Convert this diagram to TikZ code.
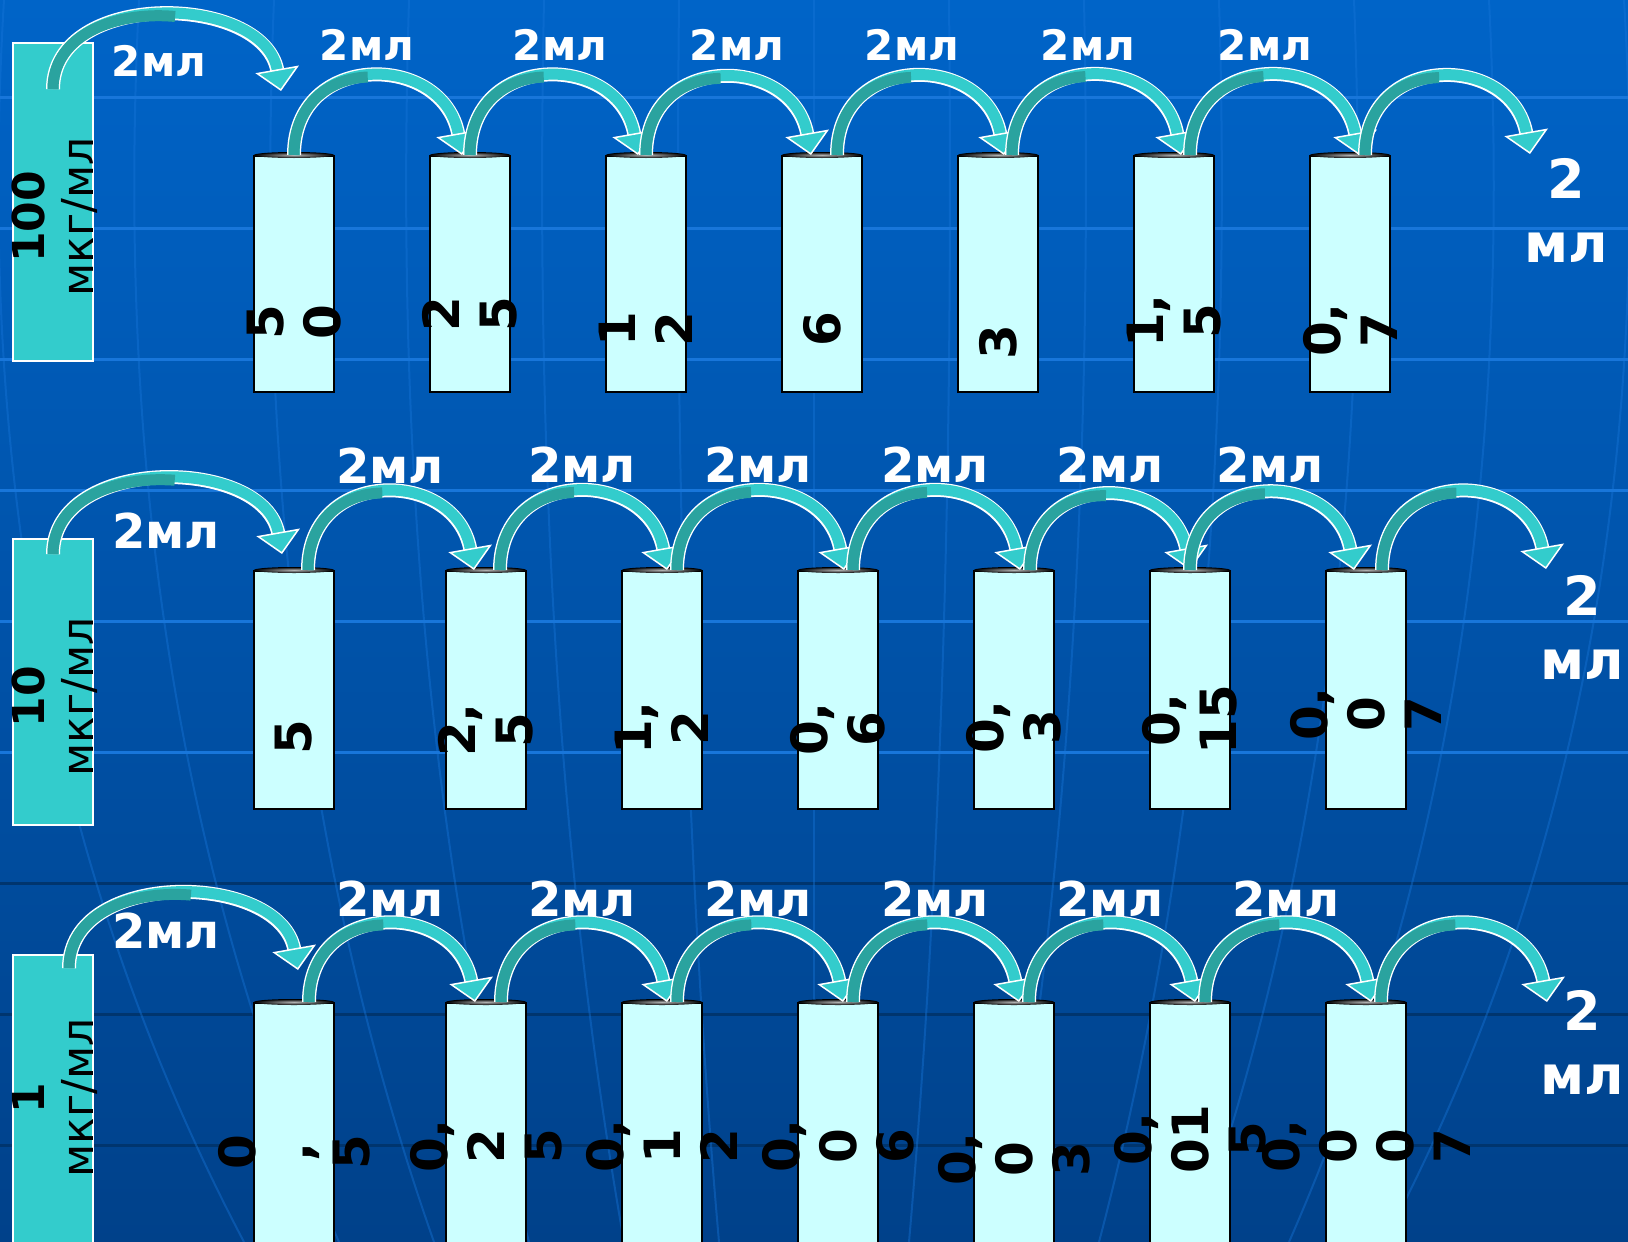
\documentclass[tikz,border=0pt]{standalone}
\usepackage{fontspec}
\setmainfont{DejaVu Sans}
\usepackage{tikz}
\usetikzlibrary{arrows.meta}
\definecolor{bgtop}    {HTML}{0064C8}
\definecolor{bgmid}    {HTML}{0055AE}
\definecolor{bgbot}    {HTML}{00418A}
\definecolor{gridlight}{HTML}{1876DA}
\definecolor{griddark} {HTML}{00356E}
\definecolor{tubefill} {HTML}{CCFFFF}
\definecolor{stockfill}{HTML}{33CCCC}
\definecolor{flowlight}{HTML}{33CCCC}
\definecolor{flowdark} {HTML}{2AA39F}
\tikzset{
  % --- nodes
  stock/.style = {draw=white, line width=0.75pt, fill=stockfill, minimum width=40pt, inner sep=0pt},
  tube/.style  = {draw=black, line width=1pt, fill=tubefill, minimum width=40pt, inner sep=0pt},
  conc/.style  = {rotate=90, align=center, inner sep=0pt, font=\fontsize{22}{24.5}\selectfont},
  num/.style   = {rotate=90, align=center, inner sep=0pt, font=\fontsize{25}{28.5}\selectfont\bfseries},
  vol/.style   = {inner sep=0pt, text=white, font=\fontsize{21}{25}\selectfont\bfseries},
  volbig/.style= {vol, font=\fontsize{24}{28}\selectfont\bfseries},
  rest/.style  = {align=center, inner sep=0pt, text=white, font=\fontsize{27}{32}\selectfont\bfseries},
  lid/.style   = {inner color=gray!60, outer color=black},
  % --- edges
  flow/.style  = {draw=flowlight, line width=5.5pt,
                  -{Triangle[width=22pt, length=11pt, fill=flowlight, color=white, line width=0.75pt]},
                  preaction={draw=white, line width=7pt, shorten >=10pt, arrows=-},
                  postaction={draw=flowdark, line width=5.5pt, arrows=-, dash pattern=on #1 off 400pt}},
  flow/.default = 60pt,
  gridhi/.style = {draw=gridlight, line width=1.5pt},
  gridlo/.style = {draw=griddark, line width=1.5pt},
}

\begin{document}
\begin{tikzpicture}[x=0.5pt,y=0.5pt]
  \useasboundingbox (0,0) rectangle (1628,-1242);
  \shade[top color=bgtop, middle color=bgmid, bottom color=bgbot] (0,0) rectangle (1628,-1242);

  % globe lines behind everything
  \foreach \y in {97,228,359,490,621,752}
    \draw[gridhi] (0,-\y) -- (1628,-\y);
  \foreach \y in {883,1014,1145}
    \draw[gridlo] (0,-\y) -- (1628,-\y);
  \foreach \k in {-6,...,6}
    \draw[gridhi, line width=1pt, opacity=0.4] ({814+\k*135},0) .. controls ({814+\k*140},-500) and ({814+\k*125},-900) .. ({814+\k*95},-1242);

  % row 1: 100 мкг/мл
  \node[stock, minimum height=159pt] (a0) at (53,-202) {};
  \node[conc] (a0txt) at (55,-217) {\textbf{100}\\мкг/мл};
  \foreach \n/\x in {1/294,2/470,3/646,4/822,5/998,6/1174,7/1350}{
    \node[tube, minimum height=118pt] (a\n) at (\x,-274) {};
    \shade[lid] (a\n.north) ellipse (20pt and 1.5pt);
  }
  \foreach \n/\x/\y/\v in {1/294/322/{5\\0}, 2/470/314/{2\\5}, 3/646/329/{1\\2}, 4/822/329/{6},
                          5/998/342/{3}, 6/1174/321/{1,\\5}, 7/1350/330/{0,\\7}}
    \node[num] (ta\n) at (\x,-\y) {\v};
  \foreach \n/\x/\y in {1/159/61, 2/367/45, 3/560/45, 4/737/45, 5/912/45, 6/1088/45, 7/1265/45}
    \node[vol] (va\n) at (\x,-\y) {2мл};
  \coordinate (ain)  at (281,-91);
  \coordinate (aout) at (1530,-154);
  \draw[flow=80pt] ([yshift=-23.5pt]a0.north) to[out=90, in=100, looseness=1.12] (ain);
  \foreach \i/\j/\s/\e in {1/2/0/-4, 2/3/0/-4, 3/4/0/-5.5, 4/5/7.5/3, 5/6/7/3.5, 6/7/8/4.5}
    \draw[flow] ([xshift=\s pt]a\i.north) to[out=90, in=100, looseness=1.6] ([xshift=\e pt]a\j.north);
  \draw[flow] ([xshift=7.5pt]a7.north) to[out=90, in=100, looseness=1.6] (aout);
  \node[rest] (aend) at (1566,-210) {2\\мл};

  % row 2: 10 мкг/мл
  \node[stock, minimum height=143pt] (b0) at (53,-682) {};
  \node[conc] (b0txt) at (55,-697) {\textbf{10}\\мкг/мл};
  \foreach \n/\x in {1/294,2/486,3/662,4/838,5/1014,6/1190,7/1366}{
    \node[tube, minimum height=119pt] (b\n) at (\x,-690) {};
    \shade[lid] (b\n.north) ellipse (20pt and 1.5pt);
  }
  \foreach \n/\x/\y/\v in {1/294/737/{5}, 2/486/730/{2,\\5}, 3/662/728/{1,\\2}, 4/838/729/{0,\\6},
                          5/1014/727/{0,\\3}, 6/1190/720/{0,\\15}, 7/1366/714/{0,\\0\\7}}
    \node[num] (tb\n) at (\x,-\y) {\v};
  \foreach \n/\x/\y in {1/166/531, 2/390/466, 3/582/465, 4/758/465, 5/935/465, 6/1110/465, 7/1270/465}
    \node[volbig] (vb\n) at (\x,-\y) {2мл};
  \coordinate (bin)  at (282,-554);
  \coordinate (bout) at (1546,-569);
  \draw[flow=80pt] ([yshift=-8pt]b0.north) to[out=90, in=100, looseness=1.12] (bin);
  \foreach \i/\j/\s/\e in {1/2/7/-6, 2/3/7/2.5, 3/4/7.5/3, 4/5/7.5/3, 5/6/8/0, 6/7/0/-6}
    \draw[flow] ([xshift=\s pt]b\i.north) to[out=90, in=100, looseness=1.6] ([xshift=\e pt]b\j.north);
  \draw[flow] ([xshift=8pt]b7.north) to[out=90, in=100, looseness=1.6] (bout);
  \node[rest] (bend) at (1582,-627) {2\\мл};

  % row 3: 1 мкг/мл
  \node[stock, minimum height=144.5pt] (c0) at (53,-1099.5) {};
  \node[conc] (c0txt) at (55,-1098) {\textbf{1}\\мкг/мл};
  \foreach \n/\x in {1/294,2/486,3/662,4/838,5/1014,6/1190,7/1366}{
    \node[tube, minimum height=120.5pt] (c\n) at (\x,-1123.5) {};
    \shade[lid] (c\n.north) ellipse (20pt and 1.5pt);
  }
  \foreach \n/\x/\y/\v in {1/294/1152/{0\\,\\5}, 2/486/1146/{0,\\2\\5}, 3/662/1146/{0,\\1\\2},
                          4/838/1146/{0,\\0\\6}, 5/1014/1159/{0,\\0\\3}, 6/1190/1139/{0,\\01\\5},
                          7/1366/1146/{0,\\0\\0\\7}}
    \node[num] (tc\n) at (\x,-\y) {\v};
  \foreach \n/\x/\y in {1/166/931, 2/390/899, 3/582/899, 4/758/899, 5/935/899, 6/1110/899, 7/1286/899}
    \node[volbig] (vc\n) at (\x,-\y) {2мл};
  \coordinate (cin)  at (298,-970);
  \coordinate (cout) at (1547,-1002);
  \draw[flow=80pt] ([xshift=8pt,yshift=-7pt]c0.north) to[out=90, in=100, looseness=1.12] (cin);
  \foreach \i/\j/\s/\e in {1/2/7.5/-5.5, 2/3/7.5/2.5, 3/4/7.5/2.5, 4/5/7.5/2.5, 5/6/7.5/2.5, 6/7/7.5/2.5}
    \draw[flow] ([xshift=\s pt]c\i.north) to[out=90, in=100, looseness=1.6] ([xshift=\e pt]c\j.north);
  \draw[flow] ([xshift=7.5pt]c7.north) to[out=90, in=100, looseness=1.6] (cout);
  \node[rest] (cend) at (1582,-1042) {2\\мл};
\end{tikzpicture}
\end{document}
